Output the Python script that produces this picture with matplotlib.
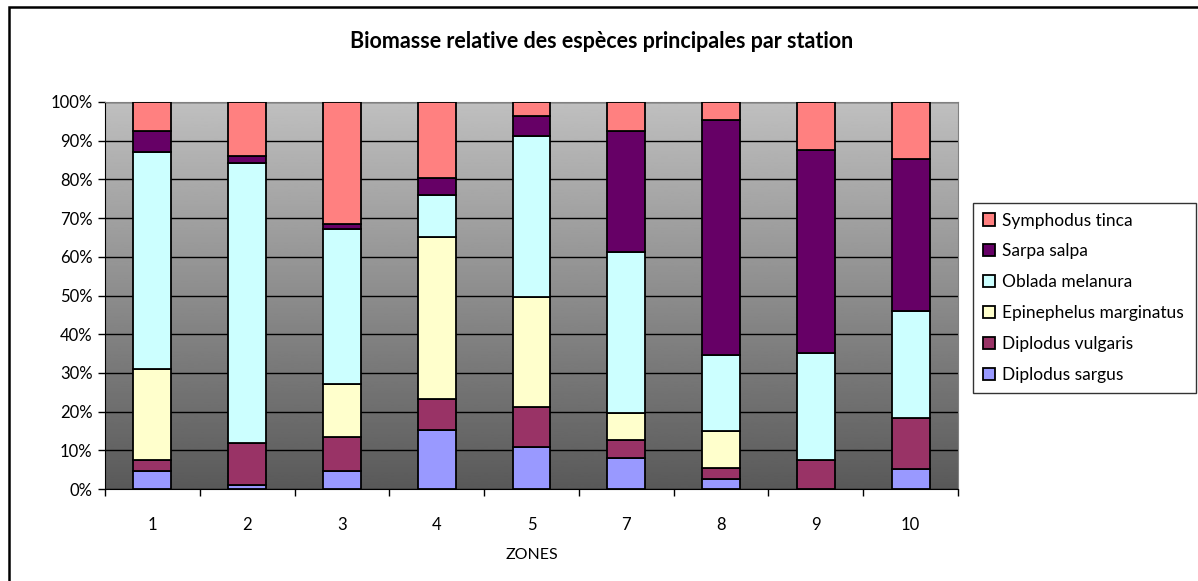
import matplotlib.pyplot as plt
import numpy as np
from matplotlib.patches import Rectangle

plt.rcParams["font.family"] = ["Lato", "DejaVu Sans"]

zones = ["1", "2", "3", "4", "5", "7", "8", "9", "10"]

# relative biomass (%) per species, bottom to top of each stack
diplodus_sargus = [4.7, 1.0, 4.7, 15.2, 10.9, 8.1, 2.7, 0.0, 5.2]
diplodus_vulgaris = [2.8, 11.0, 8.7, 8.0, 10.4, 4.6, 2.7, 7.5, 13.1]
epinephelus_marginatus = [23.6, 0.0, 13.8, 41.9, 28.4, 7.0, 9.5, 0.0, 0.0]
oblada_melanura = [56.0, 72.2, 40.1, 10.8, 41.5, 41.5, 19.7, 27.6, 27.7]
sarpa_salpa = [5.3, 1.8, 1.2, 4.5, 5.3, 31.2, 60.7, 52.4, 39.4]
symphodus_tinca = [7.6, 14.0, 31.5, 19.6, 3.5, 7.6, 4.7, 12.5, 14.6]

species = [
    ("Diplodus sargus", diplodus_sargus, "#9999FF"),
    ("Diplodus vulgaris", diplodus_vulgaris, "#993366"),
    ("Epinephelus marginatus", epinephelus_marginatus, "#FFFFCC"),
    ("Oblada melanura", oblada_melanura, "#CCFFFF"),
    ("Sarpa salpa", sarpa_salpa, "#660066"),
    ("Symphodus tinca", symphodus_tinca, "#FF8080"),
]

fig = plt.figure(figsize=(11.98, 5.81), dpi=100)

# outer chart border (runs off the right and bottom of the picture)
fig.patches.append(
    Rectangle((9 / 1198, -0.05), 1.1, 1 - 6.5 / 581 + 0.05, transform=fig.transFigure,
              fill=False, edgecolor="black", linewidth=1.8)
)

ax = fig.add_axes([105 / 1198, 1 - 489 / 581, 853 / 1198, 387 / 581])

# grey gradient background, light at top, dark at bottom
grad = np.linspace(0.75, 0.35, 256).reshape(-1, 1)
ax.imshow(grad, cmap="gray", vmin=0, vmax=1, aspect="auto",
          extent=[0, 1, 0, 1], transform=ax.transAxes, zorder=0)

x = np.arange(len(zones))
totals = np.sum([s[1] for s in species], axis=0)
bottom = np.zeros(len(zones))
bars = []
for name, vals, color in species:
    pct = np.array(vals) / totals * 100
    b = ax.bar(x, pct, width=0.4, bottom=bottom, color=color,
               edgecolor="black", linewidth=1.3, label=name, zorder=3)
    bars.append(b)
    bottom += pct

ax.set_xlim(-0.5, len(zones) - 0.5)
ax.set_ylim(0, 100)
ax.set_yticks(np.arange(0, 101, 10))
ax.set_yticklabels([f"{v}%" for v in range(0, 101, 10)])
ax.yaxis.grid(True, color="black", linewidth=1.0, zorder=1)
ax.set_axisbelow(True)

ax.set_xticks(x)
ax.set_xticklabels(zones)
ax.set_xticks(np.arange(-0.5, len(zones), 1), minor=True)
ax.tick_params(axis="x", which="major", length=0, pad=20, labelsize=12)
ax.tick_params(axis="x", which="minor", length=5, direction="out", width=1)
ax.tick_params(axis="y", length=5, width=1, labelsize=12, pad=4)

for side in ["top", "right"]:
    ax.spines[side].set_color("#808080")
for side in ["left", "bottom"]:
    ax.spines[side].set_color("black")

ax.set_xlabel("ZONES", fontsize=11.5, labelpad=11)

fig.text(602 / 1198, 1 - 42 / 581,
         "Biomasse relative des espèces principales par station",
         ha="center", va="center", fontsize=15.5, fontweight="bold")

handles = bars[::-1]
labels = [s[0] for s in species][::-1]
leg = fig.legend(handles, labels, loc="upper left",
                 bbox_to_anchor=(973 / 1198, 1 - 203 / 581, 223 / 1198, 0.0),
                 mode="expand", fontsize=12.5, frameon=True, fancybox=False,
                 edgecolor="black", handlelength=0.7, handleheight=0.7,
                 handletextpad=0.4, labelspacing=0.86, borderaxespad=0,
                 borderpad=0.55)
leg.get_frame().set_linewidth(1.0)

plt.savefig("out.png", dpi=100)
